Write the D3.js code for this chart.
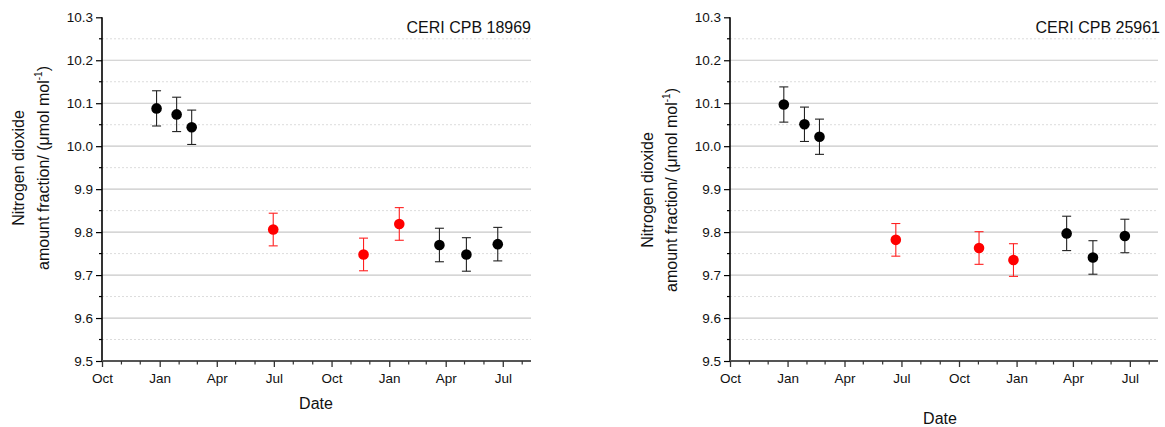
<!DOCTYPE html>
<html>
<head>
<meta charset="utf-8">
<script src="https://cdn.jsdelivr.net/npm/d3@7"></script>
<style>
  html, body { margin: 0; padding: 0; background: #fff; }
  svg { display: block; font-family: "Liberation Sans", Arial, sans-serif; }
</style>
</head>
<body>
<svg id="chart" width="1165" height="427"></svg>
<script>
// Cylinder CERI CPB 18969
const titleA = "CERI CPB 18969";
const datesA = ["2019-12-27", "2020-01-28", "2020-02-21", "2020-06-30", "2020-11-21", "2021-01-17", "2021-03-22", "2021-05-04", "2021-06-23"];
const valuesA = [10.088, 10.074, 10.044, 9.806, 9.748, 9.819, 9.770, 9.748, 9.772];
const uncA = [0.041, 0.040, 0.040, 0.038, 0.038, 0.038, 0.039, 0.039, 0.039];
const groupA = ["k", "k", "k", "r", "r", "r", "k", "k", "k"];

// Cylinder CERI CPB 25961
const titleB = "CERI CPB 25961";
const datesB = ["2019-12-26", "2020-01-28", "2020-02-21", "2020-06-22", "2020-11-02", "2020-12-27", "2021-03-22", "2021-05-03", "2021-06-23"];
const valuesB = [10.097, 10.051, 10.022, 9.782, 9.763, 9.735, 9.797, 9.741, 9.791];
const uncB = [0.041, 0.040, 0.041, 0.038, 0.038, 0.038, 0.040, 0.039, 0.039];
const groupB = ["k", "k", "k", "r", "r", "r", "k", "k", "k"];

// Axis settings
const yDomain = [9.5, 10.3];
const yMajorTicks = [9.5, 9.6, 9.7, 9.8, 9.9, 10.0, 10.1, 10.2, 10.3];
const yMinorTicks = [9.55, 9.65, 9.75, 9.85, 9.95, 10.05, 10.15, 10.25];
const xStart = "2019-10-01";
const xEnd = "2021-08-15";
const xMajorTicks = ["2019-10-01", "2020-01-01", "2020-04-01", "2020-07-01", "2020-10-01", "2021-01-01", "2021-04-01", "2021-07-01"];
const monthNames = ["Jan", "Feb", "Mar", "Apr", "May", "Jun", "Jul", "Aug", "Sep", "Oct", "Nov", "Dec"];
const yTitle1 = "Nitrogen dioxide";
const xTitle = "Date";

const parse = d3.timeParse("%Y-%m-%d");
const colors = { k: "#000000", r: "#ff0000" };
const barColors = { k: "#222222", r: "#ff2020" };
const svg = d3.select("#chart");

function drawPanel(cfg) {
  const g = svg.append("g");
  const x = d3.scaleTime().domain([parse(xStart), parse(xEnd)]).range([cfg.left, cfg.right]);
  const y = d3.scaleLinear().domain(yDomain).range([cfg.bottom, cfg.top]);

  // grid lines
  g.append("g").selectAll("line").data(yMinorTicks).join("line")
    .attr("x1", cfg.left).attr("x2", cfg.right)
    .attr("y1", d => y(d)).attr("y2", d => y(d))
    .attr("stroke", "#dcdcdc").attr("stroke-width", 1).attr("stroke-dasharray", "2,2");
  g.append("g").selectAll("line").data(yMajorTicks.filter(v => v > yDomain[0] && v < yDomain[1])).join("line")
    .attr("x1", cfg.left).attr("x2", cfg.right)
    .attr("y1", d => y(d)).attr("y2", d => y(d))
    .attr("stroke", "#c8c8c8").attr("stroke-width", 1.2);

  // y axis
  const yAxis = g.append("g").attr("transform", `translate(${cfg.left},0)`)
    .call(d3.axisLeft(y).tickValues(yMajorTicks).tickFormat(d3.format(".1f")).tickSize(6).tickPadding(3));
  yAxis.select(".domain").attr("stroke", "#000").attr("stroke-width", 1.6).attr("d", `M0,${cfg.top}V${cfg.bottom}`);
  yAxis.selectAll(".tick line").attr("stroke", "#000").attr("stroke-width", 1.2);
  yAxis.selectAll(".tick text").attr("font-size", 13.5).attr("fill", "#111")
    .attr("font-family", "'Liberation Sans', Arial, sans-serif");
  g.append("g").selectAll("line").data(yMinorTicks).join("line")
    .attr("x1", cfg.left - 3).attr("x2", cfg.left)
    .attr("y1", d => y(d)).attr("y2", d => y(d))
    .attr("stroke", "#000").attr("stroke-width", 1.2);

  // x axis
  const majors = xMajorTicks.map(parse);
  const xAxis = g.append("g").attr("transform", `translate(0,${cfg.bottom})`)
    .call(d3.axisBottom(x).tickValues(majors).tickFormat(d => monthNames[d.getMonth()]).tickSize(6).tickPadding(6));
  xAxis.select(".domain").attr("stroke", "#555").attr("stroke-width", 2).attr("d", `M${cfg.left},0H${cfg.right}`);
  xAxis.selectAll(".tick line").attr("stroke", "#333").attr("stroke-width", 1.3);
  xAxis.selectAll(".tick text").attr("font-size", 13.5).attr("fill", "#111")
    .attr("font-family", "'Liberation Sans', Arial, sans-serif");
  const minors = d3.timeMonth.range(parse(xStart), parse(xEnd))
    .filter(d => d.getMonth() % 3 !== 0);
  g.append("g").selectAll("line").data(minors).join("line")
    .attr("x1", d => x(d)).attr("x2", d => x(d))
    .attr("y1", cfg.bottom).attr("y2", cfg.bottom + 3.5)
    .attr("stroke", "#333").attr("stroke-width", 1.2);

  // data with uncertainty bars
  const pts = cfg.dates.map((d, i) => ({ date: parse(d), v: cfg.values[i], u: cfg.unc[i], c: cfg.group[i] }));
  const bars = g.append("g").selectAll("g").data(pts).join("g")
    .attr("stroke", d => barColors[d.c]).attr("stroke-width", 1.1);
  bars.append("line")
    .attr("x1", d => x(d.date)).attr("x2", d => x(d.date))
    .attr("y1", d => y(d.v - d.u)).attr("y2", d => y(d.v + d.u));
  bars.append("line")
    .attr("x1", d => x(d.date) - 4.5).attr("x2", d => x(d.date) + 4.5)
    .attr("y1", d => y(d.v + d.u)).attr("y2", d => y(d.v + d.u));
  bars.append("line")
    .attr("x1", d => x(d.date) - 4.5).attr("x2", d => x(d.date) + 4.5)
    .attr("y1", d => y(d.v - d.u)).attr("y2", d => y(d.v - d.u));
  g.append("g").selectAll("circle").data(pts).join("circle")
    .attr("cx", d => x(d.date)).attr("cy", d => y(d.v)).attr("r", 5.3)
    .attr("fill", d => colors[d.c]);

  // panel title
  g.append("text").attr("x", cfg.titleX).attr("y", 33).attr("text-anchor", "end")
    .attr("font-size", 16).attr("fill", "#111").text(cfg.title);

  // axis titles
  g.append("text").attr("x", cfg.xTitleX).attr("y", cfg.xTitleY).attr("text-anchor", "middle")
    .attr("font-size", 16).attr("fill", "#111").text(xTitle);

  g.append("text")
    .attr("transform", `translate(${cfg.yTitleX1},${cfg.yTitleCY}) rotate(-90)`)
    .attr("text-anchor", "middle").attr("font-size", 16).attr("fill", "#111").text(yTitle1);
  const t2 = g.append("text")
    .attr("transform", `translate(${cfg.yTitleX2},${cfg.yTitleCY}) rotate(-90)`)
    .attr("text-anchor", "middle").attr("font-size", 16).attr("fill", "#111");
  t2.append("tspan").text("amount fraction/ (\u03bcmol mol");
  t2.append("tspan").attr("font-size", 10).attr("dy", -7).text("-1");
  t2.append("tspan").attr("dy", 7).text(")");
}

drawPanel({
  left: 102, right: 531, top: 17.3, bottom: 361,
  title: titleA, titleX: 531,
  dates: datesA, values: valuesA, unc: uncA, group: groupA,
  xTitleX: 316, xTitleY: 409,
  yTitleX1: 24, yTitleX2: 49, yTitleCY: 168
});

drawPanel({
  left: 730, right: 1158, top: 17.3, bottom: 361,
  title: titleB, titleX: 1160,
  dates: datesB, values: valuesB, unc: uncB, group: groupB,
  xTitleX: 940, xTitleY: 424,
  yTitleX1: 653, yTitleX2: 677, yTitleCY: 190
});
</script>
</body>
</html>
